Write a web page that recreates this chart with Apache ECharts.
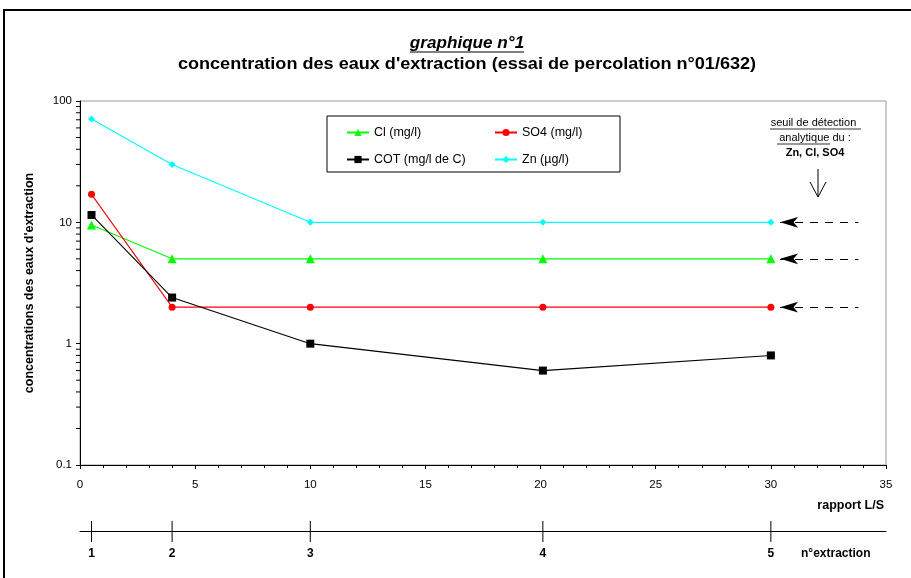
<!DOCTYPE html>
<html><head><meta charset="utf-8">
<script src="https://cdn.jsdelivr.net/npm/echarts@6/dist/echarts.min.js"></script>
<style>html,body{margin:0;padding:0;background:#fff}#c{width:911px;height:578px}</style>
</head><body><div id="c"></div>
<script>
// ---- data ----
const ratioLS = [0.5, 4, 10, 20.1, 30];          // rapport L/S
const extractionNo = [1, 2, 3, 4, 5];            // n° extraction
const clValues  = [9.5, 5, 5, 5, 5];             // Cl (mg/l)
const so4Values = [17, 2, 2, 2, 2];              // SO4 (mg/l)
const cotValues = [11.5, 2.4, 1, 0.6, 0.8];      // COT (mg/l de C)
const znValues  = [71, 30, 10, 10, 10];          // Zn (µg/l)
const detectionZn = 10, detectionCl = 5, detectionSO4 = 2;
const titleText = 'graphique n°1';
const subtitleText = "concentration des eaux d'extraction (essai de percolation n°01/632)";

const FONT = 'Liberation Sans, Arial, sans-serif';
const pairs = v => ratioLS.map((x, i) => [x, v[i]]);
const minorLog = [];
[0.1, 1, 10].forEach(d => { for (let k = 2; k <= 9; k++) minorLog.push([0, +(d * k).toFixed(2)]); });

const arrowLine = (y, color) => ({
  silent: true, animation: false,
  symbol: ['arrow', 'none'], symbolSize: [8, 18],
  label: { show: false },
  lineStyle: { color: color, type: [8, 7], width: 1 },
  emphasis: { disabled: true },
  data: [[{ coord: [30.4, y] }, { coord: [33.8, y] }]]
});

const legendText = { fontFamily: FONT, fontSize: 12.5, color: '#000' };

const chart = echarts.init(document.getElementById('c'), null, { renderer: 'canvas' });
chart.setOption({
  animation: false,
  textStyle: { fontFamily: FONT },
  legend: [
    { data: ['Cl (mg/l)', 'COT (mg/l de C)'], orient: 'vertical', left: 341, top: 121,
      itemWidth: 22, itemHeight: 9, itemGap: 14, textStyle: legendText },
    { data: ['SO4 (mg/l)', 'Zn (µg/l)'], orient: 'vertical', left: 489, top: 121,
      itemWidth: 22, itemHeight: 9, itemGap: 14, textStyle: legendText }
  ],
  grid: [
    { left: 80, right: 25, top: 101, bottom: 113, show: true, borderColor: '#999', borderWidth: 1 },
    { left: 80, right: 25, top: 521, height: 21 }
  ],
  xAxis: [
    { gridIndex: 0, type: 'value', min: 0, max: 35, interval: 5,
      name: 'rapport L/S', nameLocation: 'end', nameGap: 0,
      nameTextStyle: { fontFamily: FONT, fontSize: 12.5, fontWeight: 'bold', color: '#000', align: 'right', verticalAlign: 'top', padding: [34, 2, 0, 0] },
      axisLine: { lineStyle: { color: '#000', width: 1 } },
      axisTick: { length: 4, lineStyle: { color: '#000' } },
      minorTick: { show: true, splitNumber: 5, length: 3, lineStyle: { color: '#000' } },
      axisLabel: { fontFamily: FONT, fontSize: 11.5, color: '#000', margin: 14 },
      splitLine: { show: false } },
    { gridIndex: 1, type: 'value', min: 0, max: 35,
      axisLine: { onZero: true, lineStyle: { color: '#000', width: 1 } },
      axisTick: { show: false }, axisLabel: { show: false }, splitLine: { show: false } }
  ],
  yAxis: [
    { gridIndex: 0, type: 'log', logBase: 10, min: 0.1, max: 100,
      name: "concentrations des eaux d'extraction", nameLocation: 'middle', nameGap: 44, nameRotate: 90,
      nameTextStyle: { fontFamily: FONT, fontSize: 12.5, fontWeight: 'bold', color: '#000' },
      axisLine: { show: true, lineStyle: { color: '#000', width: 1 } },
      axisTick: { length: 4, lineStyle: { color: '#000' } },
      axisLabel: { fontFamily: FONT, fontSize: 11.5, color: '#000', margin: 8,
        formatter: v => String(+v.toPrecision(3)) },
      splitLine: { show: false } },
    { gridIndex: 1, type: 'value', min: -1, max: 1, show: false }
  ],
  series: [
    { name: 'Cl (mg/l)', type: 'line', data: pairs(clValues), color: '#00ff00',
      symbol: 'triangle', symbolSize: 9, lineStyle: { width: 1.1 }, z: 3,
      markLine: arrowLine(detectionCl, '#000') },
    { name: 'SO4 (mg/l)', type: 'line', data: pairs(so4Values), color: '#ff0000',
      symbol: 'circle', symbolSize: 7, lineStyle: { width: 1.1 }, z: 3,
      markLine: arrowLine(detectionSO4, '#000') },
    { name: 'COT (mg/l de C)', type: 'line', data: pairs(cotValues), color: '#000000',
      symbol: 'rect', symbolSize: 8, lineStyle: { width: 1.1 }, z: 4 },
    { name: 'Zn (µg/l)', type: 'line', data: pairs(znValues), color: '#00ffff',
      symbol: 'diamond', symbolSize: 7, lineStyle: { width: 1.1 }, z: 3,
      markLine: arrowLine(detectionZn, '#000') },
    { type: 'custom', xAxisIndex: 0, yAxisIndex: 0, data: minorLog, silent: true, clip: false, z: 5,
      renderItem: (params, api) => {
        const p = api.coord([api.value(0), api.value(1)]);
        return { type: 'line', shape: { x1: p[0] - 4, y1: p[1], x2: p[0], y2: p[1] }, style: { stroke: '#000', lineWidth: 1 } };
      } },
    { type: 'custom', xAxisIndex: 1, yAxisIndex: 1, silent: true, clip: false,
      data: ratioLS.map((x, i) => [x, extractionNo[i]]),
      renderItem: (params, api) => {
        const top = api.coord([api.value(0), 1]);
        const bot = api.coord([api.value(0), -1]);
        return { type: 'group', children: [
          { type: 'line', shape: { x1: top[0], y1: top[1], x2: bot[0], y2: bot[1] }, style: { stroke: '#000', lineWidth: 1 } },
          { type: 'text', x: bot[0], y: bot[1] + 12, style: { text: String(api.value(1)), fill: '#000',
            font: 'bold 12px ' + FONT, align: 'center', verticalAlign: 'middle' } }
        ] };
      } }
  ],
  graphic: [
    { type: 'rect', shape: { x: 4, y: 10, width: 930, height: 600 }, style: { fill: 'none', stroke: '#000', lineWidth: 2 }, silent: true },
    { type: 'text', x: 467, y: 44, scaleX: 1.07, style: { text: titleText, font: 'italic bold 16px ' + FONT, fill: '#000', align: 'center', verticalAlign: 'middle' } },
    { type: 'line', shape: { x1: 410, y1: 52, x2: 524, y2: 52 }, style: { stroke: '#000', lineWidth: 1 } },
    { type: 'text', x: 467, y: 65, scaleX: 1.13, style: { text: subtitleText, font: 'bold 16px ' + FONT, fill: '#000', align: 'center', verticalAlign: 'middle' } },
    { type: 'rect', shape: { x: 327, y: 116, width: 293, height: 56 }, style: { fill: 'none', stroke: '#000', lineWidth: 1 }, silent: true },
    { type: 'text', x: 815, y: 123, style: { text: 'seuil de détection ', font: '11px ' + FONT, fill: '#000', align: 'center', verticalAlign: 'middle' } },
    { type: 'line', shape: { x1: 770, y1: 129, x2: 861, y2: 129 }, style: { stroke: '#000', lineWidth: 0.8 } },
    { type: 'text', x: 815, y: 138, style: { text: 'analytique du :', font: '11px ' + FONT, fill: '#000', align: 'center', verticalAlign: 'middle' } },
    { type: 'line', shape: { x1: 777, y1: 144, x2: 830, y2: 144 }, style: { stroke: '#000', lineWidth: 0.8 } },
    { type: 'text', x: 815, y: 153, style: { text: 'Zn, Cl, SO4', font: 'bold 11px ' + FONT, fill: '#000', align: 'center', verticalAlign: 'middle' } },
    { type: 'line', shape: { x1: 818, y1: 169, x2: 818, y2: 197 }, style: { stroke: '#000', lineWidth: 1 } },
    { type: 'polyline', shape: { points: [[810, 182], [818, 197], [826, 182]] }, style: { stroke: '#000', fill: 'none', lineWidth: 1 } },
    { type: 'text', x: 801, y: 554, style: { text: 'n°extraction', font: 'bold 12px ' + FONT, fill: '#000', align: 'left', verticalAlign: 'middle' } }
  ]
});
</script></body></html>
